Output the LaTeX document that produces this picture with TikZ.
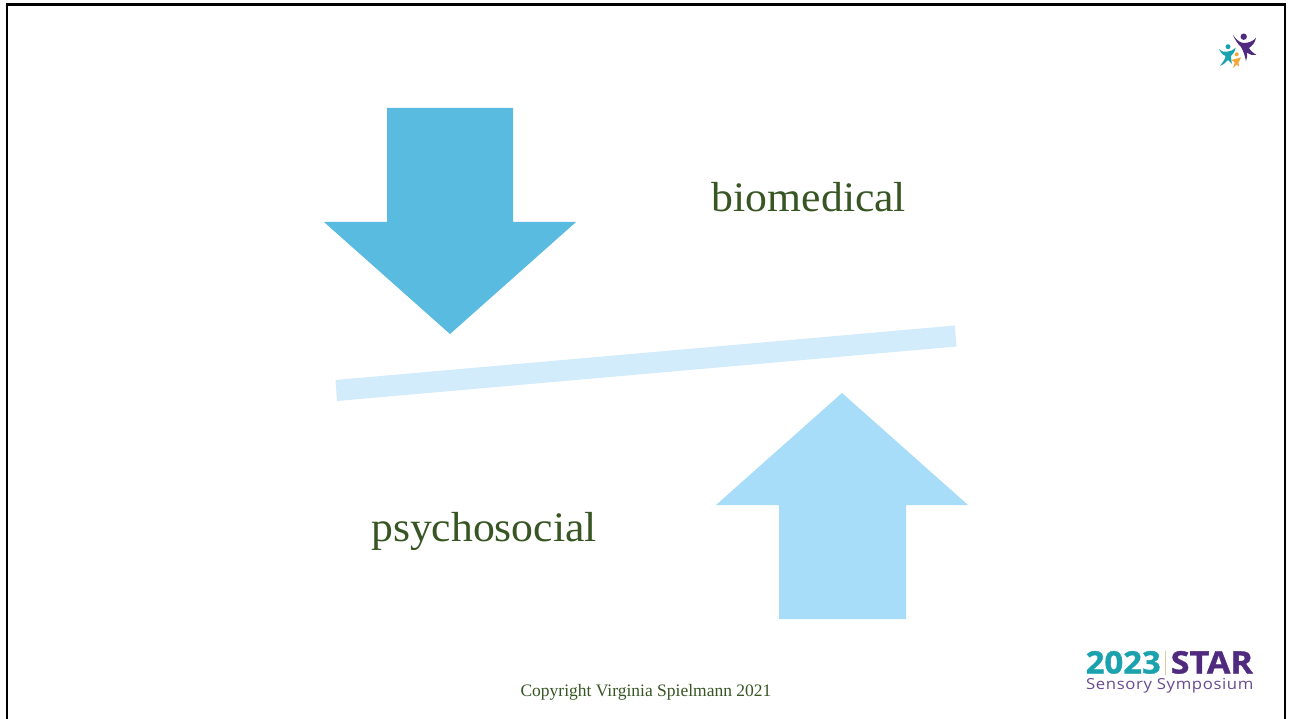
\documentclass[tikz,border=0pt]{standalone}
\usepackage{fontspec}
\setmainfont{Liberation Serif}
\newfontfamily\wordfont[FakeStretch=1.04]{Liberation Serif}
\newfontfamily\logobold[FakeStretch=1.06,FakeBold=1.2]{Open Sans Bold}
\newfontfamily\logostar[FakeStretch=1.1,FakeBold=1.2]{Open Sans Bold}
\newfontfamily\logoplain[LetterSpace=4,FakeStretch=1.1]{Open Sans}
\definecolor{arrowdark}{HTML}{59BBE0}
\definecolor{arrowlight}{HTML}{A8DDF9}
\definecolor{beam}{HTML}{D2ECFB}
\definecolor{txtgreen}{HTML}{375623}
\definecolor{logoteal}{HTML}{1AA3AE}
\definecolor{logopurple}{HTML}{4F2A7E}
\definecolor{logogold}{HTML}{F2A93B}
\definecolor{logotan}{HTML}{E0C9A0}
\tikzset{
  word/.style={text=txtgreen,inner sep=0pt,font=\wordfont\fontsize{42}{46}\selectfont},
  logotext/.style={anchor=base west,inner sep=0pt},
}
\begin{document}
\begin{tikzpicture}[x=1pt,y=-1pt]
\useasboundingbox (0,0) rectangle (1291,719);
\fill[white] (0,0) rectangle (1291,719);
% frame
\draw[black,line width=2.6pt] (7,725) -- (7,4.3) -- (1285,4.3) -- (1285,725);
% arrows and beam
\fill[arrowdark] (387,108) -- (513,108) -- (513,222) -- (576,222) -- (450,334) -- (324,222) -- (387,222) -- cycle;
\fill[arrowlight] (779,619) -- (906,619) -- (906,505) -- (968,505) -- (842,393) -- (716,505) -- (779,505) -- cycle;
\fill[beam] (335.5,380) -- (955,325.5) -- (956.5,346.5) -- (337,401) -- cycle;
% words
\node[word,anchor=base] (bio) at (809,212) {biomedical};
\node[word,anchor=base] (psy) at (484,541) {psychosocial};
\node[anchor=base,text=txtgreen,inner sep=0pt,font=\fontsize{17.5}{19}\selectfont] (copy) at (646,696) {Copyright Virginia Spielmann 2021};
% small icon
\fill[logopurple] (1243.7,36.7) circle (3.2);
\fill[logopurple] (1233,35) .. controls (1237,41) and (1241,43) .. (1244,43) .. controls (1249,43) and (1253,41) .. (1256,38) .. controls (1255,43) and (1252,46) .. (1249,48) .. controls (1250,50) and (1253,53) .. (1256.5,55) .. controls (1253,55.5) and (1250,55) .. (1247,52.5) .. controls (1247.5,55) and (1247,58) .. (1246,61) .. controls (1245,56) and (1243,50) .. (1241,47) .. controls (1238,44) and (1235,40) .. (1233,35) -- cycle;
\fill[logoteal] (1228,46.7) circle (2.5);
\fill[logoteal] (1219,49) .. controls (1222,52) and (1225,52.5) .. (1228,51.5) .. controls (1231,51) and (1233.5,50) .. (1235.7,47.7) .. controls (1235,52) and (1232.5,54.5) .. (1231,56) .. controls (1230.5,59) and (1232,62) .. (1232,64) .. controls (1230,62) and (1229,61) .. (1228,60) .. controls (1226,62.5) and (1223,65) .. (1220,65.7) .. controls (1223,62) and (1225.5,59) .. (1225.5,56) .. controls (1222.5,55) and (1220,52) .. (1219,49) -- cycle;
\fill[logogold] (1236.7,54.3) circle (2);
\fill[logogold] (1231,60) .. controls (1234,59.5) and (1237,58.5) .. (1241,57.3) .. controls (1240.5,60) and (1239,61) .. (1238.5,62.5) .. controls (1238.5,64) and (1238.5,65) .. (1239,66.5) .. controls (1237.5,65.5) and (1237,65) .. (1236.5,64.5) .. controls (1235.5,66) and (1234.5,67) .. (1233,68) .. controls (1234,65.5) and (1234.5,63.5) .. (1234.5,62) -- cycle;
% wordmark
\node[logotext,text=logoteal,font=\logobold\fontsize{31}{33}\selectfont] (yr) at (1085.5,673.5) {2023};
\fill[logotan] (1165.3,651) rectangle (1166.1,675);
\node[logotext,text=logopurple,font=\logostar\fontsize{31}{33}\selectfont] (star) at (1170.5,673.5) {STAR};
\node[logotext,text=logopurple!85!white,font=\logoplain\fontsize{15.2}{16}\selectfont] (sym) at (1086,689.5) {Sensory Symposium};
\end{tikzpicture}
\end{document}
